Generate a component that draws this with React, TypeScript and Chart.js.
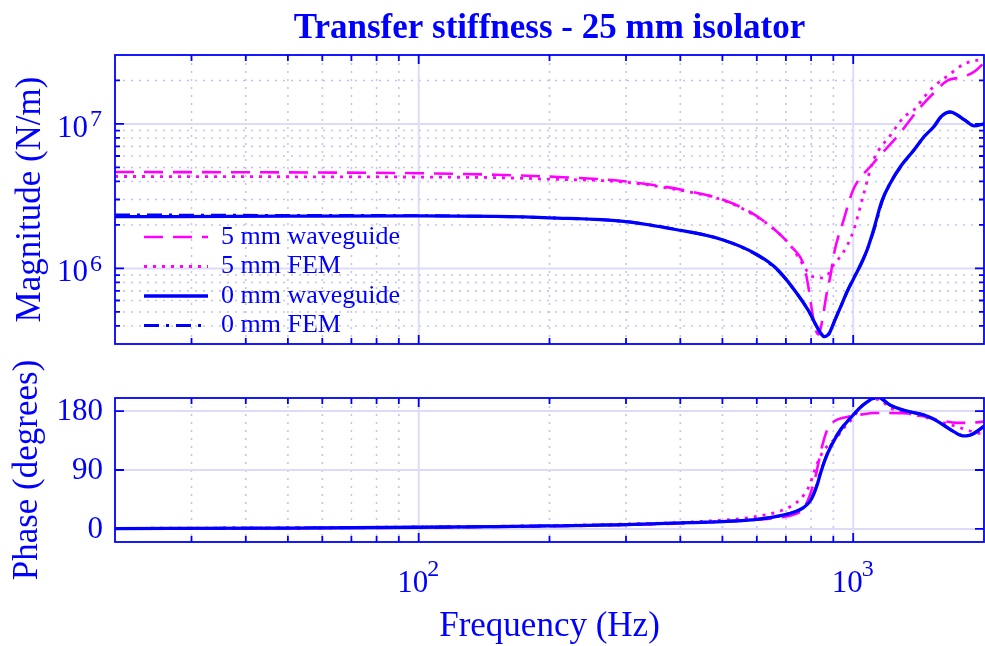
import React, { useEffect, useRef } from 'react';
import { Chart, registerables } from 'chart.js';

Chart.register(...registerables);

const SERIF = '"Liberation Serif", "Times New Roman", Times, serif';
const BLUE = '#0000ff';
const MAGENTA = '#ff00ff';
const GRID_MAJOR = '#dcdcfa';
const GRID_MINOR = '#c4c4f4';

// ---- text ----
const chartTitle = 'Transfer stiffness - 25 mm isolator';
const magAxisTitle = 'Magnitude (N/m)';
const phaseAxisTitle = 'Phase (degrees)';
const freqAxisTitle = 'Frequency (Hz)';
const seriesLabels = ['5 mm waveguide', '5 mm FEM', '0 mm waveguide', '0 mm FEM'];

// ---- axes ----
const freqRange = [20, 2000];
const magRange = [3e5, 3e7];
const phaseRange = [-20, 200];
const freqMajorTicks = [100, 1000];
const freqMinorTicks = [30, 40, 50, 60, 70, 80, 90, 200, 300, 400, 500, 600, 700, 800, 900];
const magMajorTicks = [1e6, 1e7];
const magMinorTicks = [4e5, 5e5, 6e5, 7e5, 8e5, 9e5, 2e6, 3e6, 4e6, 5e6, 6e6, 7e6, 8e6, 9e6, 2e7];
const phaseTicks = [0, 90, 180];

// ---- magnitude data (N/m) ----
const mag5wgFreq = [20, 50, 100, 150, 200, 300, 420, 500, 580, 660, 720, 770, 786, 800, 815, 832, 848, 868, 887, 905, 950, 1000, 1110, 1280, 1400, 1530, 1650, 1770, 1900, 2000];
const mag5wgVal = [4.65e6, 4.62e6, 4.56e6, 4.45e6, 4.32e6, 4.0e6, 3.42e6, 3.0e6, 2.45e6, 1.85e6, 1.42e6, 1.05e6, 7.9e5, 5.6e5, 4.0e5, 3.5e5, 4.3e5, 6.6e5, 9.0e5, 1.3e6, 2.15e6, 3.5e6, 5.3e6, 8.6e6, 1.22e7, 1.63e7, 2.0e7, 2.1e7, 2.3e7, 2.65e7];

const mag5femFreq = [20, 50, 100, 150, 200, 300, 420, 500, 580, 660, 720, 770, 795, 815, 840, 870, 900, 950, 1000, 1055, 1110, 1220, 1310, 1380, 1460, 1530, 1650, 1800, 1950, 2000];
const mag5femVal = [4.33e6, 4.31e6, 4.29e6, 4.25e6, 4.15e6, 3.95e6, 3.38e6, 2.98e6, 2.42e6, 1.85e6, 1.42e6, 1.04e6, 9.0e5, 8.7e5, 8.6e5, 8.9e5, 1.05e6, 1.3e6, 1.8e6, 3.2e6, 5.5e6, 8.4e6, 1.12e7, 1.25e7, 1.55e7, 1.81e7, 2.15e7, 2.6e7, 2.77e7, 2.78e7];

const mag0wgFreq = [20, 50, 100, 150, 200, 300, 390, 500, 600, 670, 740, 789, 823, 840, 858, 880, 902, 935, 968, 1000, 1030, 1077, 1114, 1165, 1218, 1285, 1380, 1456, 1534, 1590, 1676, 1740, 1800, 1900, 2000];
const mag0wgVal = [2.28e6, 2.30e6, 2.31e6, 2.29e6, 2.24e6, 2.11e6, 1.86e6, 1.58e6, 1.25e6, 9.8e5, 6.8e5, 5.1e5, 4.0e5, 3.6e5, 3.37e5, 3.55e5, 4.2e5, 5.4e5, 6.9e5, 8.4e5, 1.0e6, 1.35e6, 1.85e6, 2.95e6, 3.9e6, 5.07e6, 6.6e6, 8.17e6, 9.6e6, 1.12e7, 1.21e7, 1.15e7, 1.07e7, 9.7e6, 1.0e7];

const mag0femFreq = [20, 50, 100, 150, 200, 300, 400, 500, 600, 670, 740, 789, 823, 842, 860, 885, 905, 940, 970, 1000, 1040, 1080, 1120, 1170, 1220, 1290, 1380, 1460, 1540, 1600, 1680, 1750, 1810, 1900, 2000];
const mag0femVal = [2.35e6, 2.33e6, 2.32e6, 2.29e6, 2.24e6, 2.11e6, 1.84e6, 1.58e6, 1.24e6, 9.7e5, 6.8e5, 5.1e5, 4.0e5, 3.55e5, 3.4e5, 3.6e5, 4.3e5, 5.6e5, 7.0e5, 8.5e5, 1.05e6, 1.38e6, 1.9e6, 3.0e6, 3.95e6, 5.1e6, 6.6e6, 8.2e6, 9.7e6, 1.13e7, 1.21e7, 1.13e7, 1.06e7, 9.8e6, 1.0e7];

// ---- phase data (degrees) ----
const ph5wgFreq = [20, 50, 100, 200, 300, 420, 600, 700, 750, 770, 795, 819, 833, 847, 871, 895, 918, 985, 1050, 1114, 1200, 1331, 1450, 1589, 1738, 1850, 2000];
const ph5wgVal = [0.3, 1, 2, 4, 6, 9, 14, 19, 25, 31, 52, 80, 103, 125, 151, 162, 167, 172, 175, 177, 177, 176.5, 172, 166, 162, 162, 164];

const ph5femFreq = [20, 50, 100, 200, 300, 420, 600, 690, 740, 770, 795, 811, 830, 856, 890, 918, 940, 1002, 1040, 1077, 1110, 1140, 1218, 1310, 1456, 1620, 1738, 1850, 1950, 2000];
const ph5femVal = [0.8, 1.8, 3, 5, 7.5, 10.5, 19, 29, 40, 52, 68, 85, 103, 120, 132, 140, 150, 171, 186, 194, 198, 198, 185, 178, 171, 162, 156, 150, 146, 148];

const ph0wgFreq = [20, 50, 100, 150, 200, 300, 420, 600, 690, 740, 770, 795, 811, 826, 841, 862, 887, 935, 1000, 1040, 1077, 1114, 1140, 1218, 1310, 1456, 1540, 1620, 1700, 1790, 1850, 1900, 2000];
const ph0wgVal = [0.5, 1.2, 2.5, 3.5, 4.5, 6.5, 9.5, 14.5, 21, 27, 33, 42, 53, 67, 85, 106, 125, 151, 174, 186, 194, 200, 201, 189, 181, 174, 167, 158, 149, 142, 143, 146, 157];

const ph0femFreq = [20, 50, 100, 150, 200, 300, 420, 600, 690, 740, 770, 795, 811, 826, 841, 862, 887, 935, 1000, 1040, 1077, 1114, 1140, 1218, 1310, 1456, 1540, 1620, 1700, 1790, 1850, 1900, 2000];
const ph0femVal = [0.6, 1.3, 2.6, 3.6, 4.6, 6.6, 9.6, 14.5, 21, 27, 33, 43, 54, 68, 86, 107, 126, 152, 174, 186, 194, 199, 200, 189, 181, 174, 167, 158, 149, 143, 143, 147, 157];

// ---- series styles ----
const seriesColors = [MAGENTA, MAGENTA, BLUE, BLUE];
const seriesWidths = [2.6, 2.8, 3.3, 2.8];
const seriesDashes = [[19, 10], [3, 6], [], [15, 7, 3, 7]];

// ---- tick label geometry ----
const TICK_FONT = 31;
const EXP_FONT = 24;
const Y_LABEL_PAD = 27;
const Y_LABEL_OFF = 4.8;
const X_LABEL_PAD = 23;
const X_LABEL_OFF = -6;

function exponentOf(v: number) {
  return String(Math.round(Math.log10(v)));
}

function buildDatasets(freqs: number[][], vals: number[][]) {
  return seriesLabels.map((label, i) => ({
    label,
    data: freqs[i].map((f, j) => ({ x: f, y: vals[i][j] })),
    borderColor: seriesColors[i],
    backgroundColor: seriesColors[i],
    borderWidth: seriesWidths[i],
    borderDash: seriesDashes[i],
    pointRadius: 0,
    pointHoverRadius: 0,
    fill: false,
    cubicInterpolationMode: 'monotone',
    order: 3 - i,
  }));
}

function makeFramePlugin(xMajor: number[], xMinor: number[], yMajor: number[], yMinor: number[]) {
  return {
    id: 'matlabFrame',
    beforeDraw(chart: any) {
      const { ctx, chartArea: a, scales } = chart;
      const x = scales.x;
      const y = scales.y;
      ctx.save();
      ctx.lineWidth = 1.6;
      ctx.strokeStyle = GRID_MINOR;
      ctx.setLineDash([2, 6]);
      ctx.beginPath();
      xMinor.forEach((v) => {
        const px = x.getPixelForValue(v);
        ctx.moveTo(px, a.top);
        ctx.lineTo(px, a.bottom);
      });
      yMinor.forEach((v) => {
        const py = y.getPixelForValue(v);
        ctx.moveTo(a.left, py);
        ctx.lineTo(a.right, py);
      });
      ctx.stroke();
      ctx.setLineDash([]);
      ctx.lineWidth = 2;
      ctx.strokeStyle = GRID_MAJOR;
      ctx.beginPath();
      xMajor.forEach((v) => {
        const px = x.getPixelForValue(v);
        ctx.moveTo(px, a.top);
        ctx.lineTo(px, a.bottom);
      });
      yMajor.forEach((v) => {
        const py = y.getPixelForValue(v);
        ctx.moveTo(a.left, py);
        ctx.lineTo(a.right, py);
      });
      ctx.stroke();
      ctx.restore();
    },
    afterDatasetsDraw(chart: any) {
      const { ctx, chartArea: a, scales } = chart;
      const x = scales.x;
      const y = scales.y;
      ctx.save();
      ctx.strokeStyle = BLUE;
      ctx.lineWidth = 1.8;
      ctx.setLineDash([]);
      ctx.beginPath();
      const xt = (v: number, len: number) => {
        const px = x.getPixelForValue(v);
        ctx.moveTo(px, a.bottom);
        ctx.lineTo(px, a.bottom - len);
        ctx.moveTo(px, a.top);
        ctx.lineTo(px, a.top + len);
      };
      const yt = (v: number, len: number) => {
        const py = y.getPixelForValue(v);
        ctx.moveTo(a.left, py);
        ctx.lineTo(a.left + len, py);
        ctx.moveTo(a.right, py);
        ctx.lineTo(a.right - len, py);
      };
      xMajor.forEach((v) => xt(v, 9));
      xMinor.forEach((v) => xt(v, 6));
      yMajor.forEach((v) => yt(v, 9));
      yMinor.forEach((v) => yt(v, 5));
      ctx.stroke();
      ctx.strokeRect(a.left, a.top, a.right - a.left, a.bottom - a.top);
      ctx.restore();
    },
  };
}

// superscript exponents of the "10" tick labels of a log axis
function makeExponentPlugin(axis: 'x' | 'y', values: number[]) {
  return {
    id: 'tickExponents',
    afterDraw(chart: any) {
      const { ctx } = chart;
      const s = chart.scales[axis];
      ctx.save();
      ctx.fillStyle = BLUE;
      ctx.textBaseline = 'middle';
      ctx.textAlign = 'left';
      ctx.font = `${TICK_FONT}px ${SERIF}`;
      const w10 = ctx.measureText('10').width;
      ctx.font = `${EXP_FONT}px ${SERIF}`;
      values.forEach((v) => {
        const p = s.getPixelForValue(v);
        if (axis === 'y') {
          const xs = s.right - Y_LABEL_PAD + 2;
          const cy = p + Y_LABEL_OFF - 8.8;
          ctx.fillText(exponentOf(v), xs, cy);
        } else {
          const xs = p + X_LABEL_OFF + w10 / 2 - 1;
          const cy = s.top + X_LABEL_PAD + (TICK_FONT * 1.2) / 2 - 14;
          ctx.fillText(exponentOf(v), xs, cy);
        }
      });
      ctx.restore();
    },
  };
}

const legendPlacer = {
  id: 'legendPlacer',
  afterLayout(chart: any) {
    const lg = chart.legend;
    const a = chart.chartArea;
    if (!lg || !a) return;
    lg.left = a.left + 25.5;
    lg.right = a.right;
    lg.top = a.top;
    lg.bottom = a.bottom - 2;
    lg.width = lg.right - lg.left;
    lg.height = lg.bottom - lg.top;
  },
};

const hiddenGrid = { display: false, drawTicks: false, tickLength: 0 };

function topConfig(): any {
  return {
    type: 'line',
    data: { datasets: buildDatasets([mag5wgFreq, mag5femFreq, mag0wgFreq, mag0femFreq], [mag5wgVal, mag5femVal, mag0wgVal, mag0femVal]) },
    options: {
      animation: false,
      responsive: false,
      devicePixelRatio: 1,
      events: [],
      layout: { padding: { top: 0, left: 0, right: 1, bottom: 16 } },
      plugins: {
        title: {
          display: true,
          text: chartTitle,
          color: BLUE,
          fullSize: false,
          font: { family: SERIF, size: 35, weight: 'bold', lineHeight: 1.2 },
          padding: { top: 8, bottom: 5 },
        },
        legend: {
          display: true,
          position: 'chartArea',
          align: 'end',
          labels: {
            usePointStyle: true,
            pointStyleWidth: 64,
            padding: 3.5,
            color: BLUE,
            font: { family: SERIF, size: 26 },
            generateLabels: (chart: any) =>
              chart.data.datasets.map((ds: any, i: number) => ({
                text: ds.label,
                fontColor: BLUE,
                fillStyle: 'rgba(0,0,0,0)',
                strokeStyle: ds.borderColor,
                lineWidth: ds.borderWidth,
                lineDash: ds.borderDash,
                lineDashOffset: 0,
                lineCap: 'butt',
                lineJoin: 'miter',
                pointStyle: 'line',
                rotation: 0,
                hidden: false,
                datasetIndex: i,
              })),
          },
        },
        tooltip: { enabled: false },
      },
      scales: {
        x: { type: 'logarithmic', min: freqRange[0], max: freqRange[1], display: false },
        y: {
          type: 'logarithmic',
          min: magRange[0],
          max: magRange[1],
          afterBuildTicks: (s: any) => { s.ticks = magMajorTicks.map((v) => ({ value: v, major: true })); },
          afterFit: (s: any) => { s.width = 115; s.paddingTop = 0; s.paddingBottom = 0; },
          grid: hiddenGrid,
          border: { display: false },
          ticks: { color: BLUE, font: { family: SERIF, size: TICK_FONT }, padding: Y_LABEL_PAD, labelOffset: Y_LABEL_OFF, callback: () => '10' },
          title: { display: true, text: magAxisTitle, color: BLUE, font: { family: SERIF, size: 35, lineHeight: 1.2 }, padding: { top: 9.5, bottom: 0 } },
        },
      },
    },
    plugins: [makeFramePlugin(freqMajorTicks, freqMinorTicks, magMajorTicks, magMinorTicks), makeExponentPlugin('y', magMajorTicks), legendPlacer],
  };
}

function bottomConfig(): any {
  return {
    type: 'line',
    data: { datasets: buildDatasets([ph5wgFreq, ph5femFreq, ph0wgFreq, ph0femFreq], [ph5wgVal, ph5femVal, ph0wgVal, ph0femVal]) },
    options: {
      animation: false,
      responsive: false,
      devicePixelRatio: 1,
      events: [],
      layout: { padding: { top: 38, left: 0, right: 1, bottom: 0 } },
      plugins: { legend: { display: false }, title: { display: false }, tooltip: { enabled: false } },
      scales: {
        x: {
          type: 'logarithmic',
          min: freqRange[0],
          max: freqRange[1],
          afterBuildTicks: (s: any) => { s.ticks = freqMajorTicks.map((v) => ({ value: v, major: true })); },
          afterFit: (s: any) => { s.height = 104; s.paddingLeft = 0; s.paddingRight = 0; },
          grid: hiddenGrid,
          border: { display: false },
          ticks: { color: BLUE, font: { family: SERIF, size: TICK_FONT }, padding: X_LABEL_PAD, labelOffset: X_LABEL_OFF, maxRotation: 0, autoSkip: false, callback: () => '10' },
          title: { display: true, text: freqAxisTitle, color: BLUE, font: { family: SERIF, size: 35, lineHeight: 1.1 }, padding: { top: 0, bottom: 0 } },
        },
        y: {
          type: 'linear',
          min: phaseRange[0],
          max: phaseRange[1],
          afterBuildTicks: (s: any) => { s.ticks = phaseTicks.map((v) => ({ value: v })); },
          afterFit: (s: any) => { s.width = 115; s.paddingTop = 0; s.paddingBottom = 0; },
          grid: hiddenGrid,
          border: { display: false },
          ticks: { color: BLUE, font: { family: SERIF, size: TICK_FONT }, padding: 12, labelOffset: 1, callback: (v: any) => String(v) },
          title: { display: true, text: phaseAxisTitle, color: BLUE, font: { family: SERIF, size: 35, lineHeight: 1.2 }, padding: { top: 7, bottom: 0 } },
        },
      },
    },
    plugins: [makeFramePlugin(freqMajorTicks, freqMinorTicks, phaseTicks, []), makeExponentPlugin('x', freqMajorTicks)],
  };
}

export default function App() {
  const topRef = useRef<HTMLCanvasElement>(null);
  const botRef = useRef<HTMLCanvasElement>(null);
  useEffect(() => {
    const c1 = new Chart(topRef.current as HTMLCanvasElement, topConfig());
    const c2 = new Chart(botRef.current as HTMLCanvasElement, bottomConfig());
    return () => {
      c1.destroy();
      c2.destroy();
    };
  }, []);
  return (
    <div style={{ position: 'fixed', left: 0, top: 0, width: 985, height: 646, overflow: 'hidden', background: '#ffffff' }}>
      <canvas ref={topRef} width={985} height={360} style={{ position: 'absolute', left: 0, top: 0, width: 985, height: 360 }} />
      <canvas ref={botRef} width={985} height={286} style={{ position: 'absolute', left: 0, top: 360, width: 985, height: 286 }} />
    </div>
  );
}
